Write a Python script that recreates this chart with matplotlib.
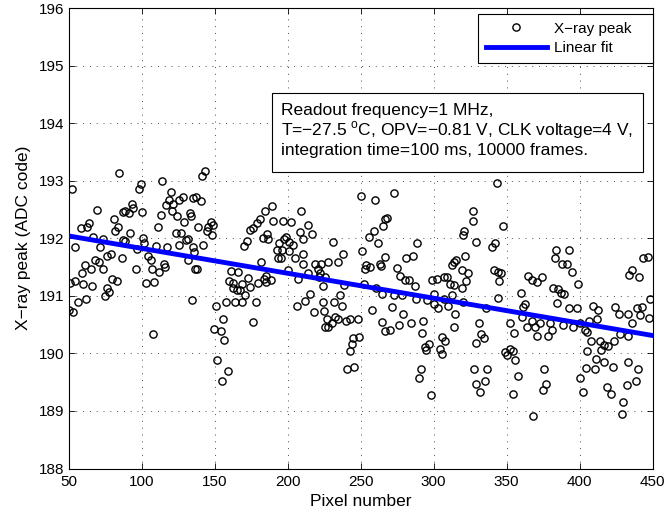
import matplotlib
matplotlib.use("Agg")
import matplotlib.pyplot as plt
from matplotlib.patches import Rectangle

plt.rcParams['font.family'] = ['Liberation Sans', 'DejaVu Sans']
plt.rcParams['mathtext.fontset'] = 'custom'
plt.rcParams['mathtext.rm'] = 'Liberation Sans'

# (pixel, peak) pairs
points = [
(84.7,193.14),(52,192.86),(69.2,192.49),(81.2,192.34),(87.4,192.46),(64.1,192.26),(62.7,192.2),(58.2,192.17),(84,192.19),(81.7,192.13),(66.9,192.03),(73.3,191.99),(87.4,191.97),(54.3,191.85),(71.4,191.84),
(79,191.72),(76.4,191.69),(86.3,191.66),(68,191.63),(71,191.59),(61.2,191.53),(65.1,191.46),(73.7,191.46),(58.9,191.4),(54.3,191.26),(50.9,191.23),(60,191.21),(65.8,191.17),(79.5,191.3),(82.9,191.26),(76,191.13),(77.8,191.07),(74.9,191.0),(61.8,190.95),(56.6,190.89),(50,190.76),(53.2,190.72),
(99.3,192.94),(98.2,192.85),(113.9,193.0),(119.9,192.81),(118.9,192.67),(128.1,192.72),(125.3,192.67),(135.3,192.7),(93.2,192.59),(116.8,192.57),(121.1,192.6),(94.3,192.52),(88.6,192.47),(91.3,192.44),(100,192.46),(121,192.47),(113,192.4),(124,192.38),(133.1,192.43),(133.8,192.38),(129,192.28),(111,192.2),(92,192.09),(123.3,192.09),(126.7,192.09),(101.1,192.01),(130.3,191.97),(131.9,191.99),(88.6,191.95),(101.6,191.91),(109.8,191.86),(117.1,191.85),(125.8,191.88),(134.9,191.84),
(97,191.82),(104.5,191.7),(106.2,191.63),(131.9,191.63),(135.8,191.76),(115.3,191.56),(116,191.5),(96.1,191.46),(106.8,191.46),(112.1,191.41),(136.5,191.47),(103,191.22),(108.6,191.24),(134.2,190.93),(107.5,190.34),
(143.4,193.17),(141.1,193.08),(137.2,192.72),(140.4,192.65),(184.5,192.47),(181,192.33),(178.8,192.26),(176,192.17),(174.2,192.14),(138.8,192.2),(147.3,192.28),(149.1,192.23),(145.6,192.19),(144.5,192.13),(147.9,192.05),(182.9,192.01),(171.9,191.95),(170.1,191.86),(141.8,191.88),
(137.7,191.47),(181.5,191.59),(161,191.43),(166.2,191.41),(173,191.31),(160,191.26),(162.3,191.22),(168.5,191.2),(179.9,191.22),(183.8,191.3),(174.2,191.15),(162.7,191.13),(165,191.1),(167.3,191.1),(170.7,191.01),(150.9,190.82),(157.7,190.89),(163.9,190.89),(168.9,190.89),(178.1,190.89),(155.9,190.59),(176,190.54),(149.8,190.43),(154.1,190.39),(156.6,190.23),(151.8,189.88),(158.9,189.69),(154.8,189.52),
(189,192.56),(208.9,192.47),(190.1,192.3),(197,192.3),(202,192.28),(214.1,192.23),(208.4,192.11),(216.4,192.07),(186,192.07),(186.7,191.99),(198.8,192.03),(197.5,191.98),(210.7,191.98),(194.2,191.92),(201.1,191.94),(203.8,191.88),(192.5,191.8),(195.9,191.8),(201.1,191.78),(210.7,191.72),(205,191.66),(193.3,191.65),(195.5,191.66),(210.3,191.55),(218.7,191.56),(222.6,191.55),(221,191.46),(200.1,191.44),(213.8,191.39),(222.4,191.39),(207.3,191.3),(185.1,191.34),(185.1,191.24),(188.4,191.27),(221.6,191.33),(224,191.17),(215.3,191.04),(211.8,190.91),(206.2,190.82),(224.4,190.89),(218,190.72),(224.9,190.74),(225.6,190.45),
(250,192.73),(259.8,192.67),(266.6,192.34),(265.1,192.21),(259.1,192.13),(255.9,192.03),(262.1,191.91),(250.7,191.78),(230.8,191.94),(237.7,191.72),(234.7,191.59),(227.8,191.59),(253.8,191.53),(256.1,191.5),(262.9,191.56),(264,191.51),(266.6,191.67),(253,191.47),(225.5,191.33),(238.6,191.18),(252.3,191.21),(260.5,191.13),(264.3,191.04),(235.8,191.01),(231.7,190.89),(237,190.83),(257.5,190.75),(226.7,190.6),(232.4,190.63),(234.7,190.6),(230.1,190.52),(227.8,190.45),(240,190.56),(242.7,190.6),(248.4,190.59),(266.6,190.39),(249.1,190.28),(245,190.26),(243.8,190.16),(242.7,190.04),(240.8,189.72),(245.4,189.76),
(272.8,192.79),(268.2,192.36),(288.8,191.91),(281,191.66),(285.6,191.7),(274.7,191.49),(276.9,191.34),(280.4,191.28),(283.3,191.28),(287.2,191.17),(298.6,191.28),(302,191.3),(307,191.33),(272.8,191.01),(278,191.01),(287.9,190.95),(295.2,190.93),(300.2,191.04),(300.2,190.86),(303.2,190.78),(307.1,190.95),(271.2,190.8),(278.8,190.68),(292.9,190.57),(264.5,190.55),(276.4,190.49),(284.4,190.53),(270.1,190.4),(291.8,190.35),(305.5,190.28),(297,190.17),(294,190.11),(294.7,190.05),(304.3,190.08),(291.1,189.72),(290.2,189.58),(298,189.27),
(343.6,192.96),(326.7,192.47),(327.1,192.3),(347.3,192.21),(320.8,192.13),(320.3,192.05),(329,191.94),(342,191.91),(339.7,191.84),(321.4,191.7),(313.8,191.59),(312.7,191.53),(315.5,191.62),(319.6,191.44),(323.7,191.4),(322.3,191.26),(341.4,191.44),(343.8,191.41),(346,191.4),(344.7,191.26),(308.9,191.33),(311.2,191.21),(313.9,191.18),(319.2,191.13),(312.3,191.01),(344.3,190.97),(310,190.83),(320.3,190.89),(314.6,190.69),(335.8,190.78),(313.9,190.45),(330.9,190.52),(332.5,190.33),(334.7,190.26),(329.2,190.18),(307.7,190.21),(305.5,189.99),(327.8,189.72),(336.5,189.72),(335.4,189.52),(329.2,189.46),(331.5,189.33),(348.8,190.02),
(383.8,191.79),(383.1,191.66),(387.7,191.56),(364.8,191.34),(367.1,191.27),(370.5,191.24),(373.9,191.33),(381.5,191.14),(385.3,191.11),(387,191.05),(359.6,191.05),(384.7,190.87),(362.5,190.86),(361.4,190.8),(352.3,190.53),(360.3,190.64),(367.1,190.56),(372.8,190.52),(379.6,190.53),(380.8,190.41),(388.8,190.49),(364.1,190.46),(369.4,190.46),(370.5,190.31),(378.5,190.31),(354.9,190.35),(352.3,190.08),(354.6,190.04),(350.5,189.98),(355.7,189.88),(358,189.6),(375.6,189.72),(377,189.46),(374.6,189.36),(354.6,189.29),(367.9,188.92),
(392.9,191.8),(443.2,191.65),(391.1,191.55),(394.5,191.41),(435.6,191.44),(433.9,191.36),(440.8,191.32),(399,191.21),(389.3,191.03),(392.9,190.78),(397.9,190.78),(409.3,190.83),(412.7,190.75),(424.2,190.8),(427.1,190.68),(433.3,190.68),(439,190.79),(442.4,190.8),(441.3,190.66),(395.6,190.45),(400.2,190.53),(406.6,190.56),(411.6,190.6),(403.5,190.4),(405.1,190.37),(435.6,190.52),(427.6,190.34),(433.3,190.3),(407.7,190.21),(414.1,190.21),(416.4,190.14),(419.2,190.12),(423.3,190.21),(414.5,190.05),(405.3,190.04),(411,189.91),(416.7,189.85),(404,189.75),(410.4,189.72),(423,189.76),(432.8,189.85),(440.1,189.73),(400.2,189.58),(438.9,189.52),(432.1,189.45),(418.4,189.41),(421.4,189.29),(402.6,189.33),(429.9,189.15),(428.8,188.94),
(446.5,191.68),(448,190.95),(447.5,190.62),
]
pixel = [p[0] for p in points]
peak = [p[1] for p in points]

fit_x = [50, 450]
fit_y = [192.04, 190.31]

xticks = [50, 100, 150, 200, 250, 300, 350, 400, 450]
yticks = [188, 189, 190, 191, 192, 193, 194, 195, 196]

info_lines = ['Readout frequency=1 MHz,',
              'T=\u221227.5 $^{\\mathrm{o}}$C, OPV=\u22120.81 V, CLK voltage=4 V,',
              'integration time=100 ms, 10000 frames.']

W, H = 667, 518
AX_L, AX_R, AX_T, AX_B = 68.7, 652.7, 8.0, 468.5

def fx(px):
    return (px - AX_L) / (AX_R - AX_L)

def fy(py):
    return (AX_B - py) / (AX_B - AX_T)

TICK_FS = 11
LABEL_FS = 12.5

fig = plt.figure(figsize=(W / 100, H / 100), dpi=100)
ax = fig.add_axes([AX_L / W, 1 - AX_B / H, (AX_R - AX_L) / W, (AX_B - AX_T) / H])

ax.plot(pixel, peak, 'o', mfc='none', mec='black', ms=5.2, mew=1.0, label='X\u2212ray peak', zorder=3)
ax.plot(fit_x, fit_y, '-', color=(0, 0, 1), lw=3.5, label='Linear fit', zorder=4)

ax.set_xlim(50, 450)
ax.set_ylim(188, 196)
ax.set_xticks(xticks)
ax.set_yticks(yticks)
ax.tick_params(direction='in', top=True, right=True, labelsize=TICK_FS, length=4, width=0.6, pad=3)
ax.tick_params(axis='x', pad=5)
ax.grid(True, linestyle=(0, (1, 6)), color='0.3', lw=0.7)
for s in ax.spines.values():
    s.set_linewidth(0.8)

ax.set_xlabel('Pixel number', fontsize=LABEL_FS, labelpad=3)
ax.set_ylabel('X\u2212ray peak (ADC code)', fontsize=LABEL_FS, labelpad=6)

leg_x0, leg_x1, leg_top = fx(478), fx(652.7), fy(14)
leg = ax.legend(loc='upper left', bbox_to_anchor=(leg_x0, leg_top - 0.2, leg_x1 - leg_x0, 0.2),
                mode='expand', borderaxespad=0,
                fontsize=TICK_FS, numpoints=1, handlelength=4.0,
                handletextpad=0.45, borderpad=0.5, labelspacing=0.35,
                fancybox=False, edgecolor='black', framealpha=1)
leg.get_frame().set_linewidth(0.8)
leg.set_zorder(6)

ax.add_patch(Rectangle((fx(272), fy(172)), fx(643) - fx(272), fy(93) - fy(172),
                       transform=ax.transAxes, fc='white', ec='black', lw=0.8, zorder=5))
for i, line in enumerate(info_lines):
    ax.text(fx(281), fy(115 + 20 * i), line, transform=ax.transAxes, fontsize=LABEL_FS,
            va='baseline', ha='left', zorder=6)

fig.savefig('out.png', dpi=100)
